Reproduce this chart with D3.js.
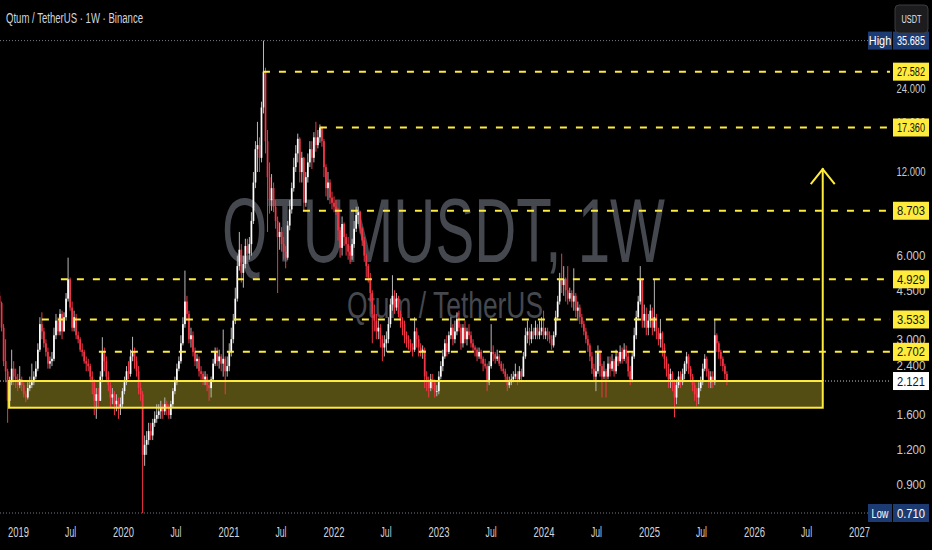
<!DOCTYPE html>
<html>
<head>
<meta charset="utf-8">
<script src="https://cdn.jsdelivr.net/npm/d3@7"></script>
<style>
  html, body { margin: 0; padding: 0; background: #000; }
  svg { display: block; }
  text { font-family: "Liberation Sans", "DejaVu Sans", sans-serif; }
</style>
</head>
<body>
<svg id="chart" width="932" height="550"></svg>
<script>
// ---------------- DATA ----------------
const symbolTitle = "Qtum / TetherUS · 1W · Binance";
const watermarkMain = "QTUMUSDT, 1W";
const watermarkSub = "Qtum / TetherUS";
const currency = "USDT";

const firstWeek = "2018-10-29";
const firstOpen = 4.3;

// weekly closes
const closes = [
  4.05,3.3,2.5,2.3,1.8,2.1,2.35,2.2,2.15,2.05,
  2.15,2.05,1.9,1.85,2.0,2.05,2.1,2.2,2.35,2.75,
  3.4,3.2,2.9,2.7,2.45,2.5,2.55,3.1,3.5,3.2,
  3.7,3.2,3.6,4.2,4.93,3.9,3.3,3.6,3.1,3.0,
  2.75,2.7,2.5,2.45,2.4,2.2,2.1,1.8,1.9,1.8,
  2.2,2.7,2.5,2.2,2.05,1.85,1.9,1.75,1.8,1.7,
  1.75,1.95,2.1,2.3,2.25,2.6,2.7,2.5,2.3,2.0,
  1.9,1.15,1.25,1.3,1.4,1.35,1.5,1.55,1.6,1.65,
  1.7,1.65,1.75,1.7,1.6,1.75,1.95,2.1,2.35,2.5,
  2.9,3.4,4.1,3.7,3.0,3.1,2.7,2.5,2.55,2.3,
  2.25,2.15,2.2,2.05,2.0,2.15,2.45,2.7,2.5,2.6,
  2.45,2.55,2.3,2.4,2.7,3.0,3.5,4.2,5.5,6.3,
  5.2,5.6,6.5,6.1,6.6,8.0,11,14.5,15,13.5,
  20.5,27.582,15.5,11.5,9.5,10.5,9.0,8.0,7.0,7.3,
  6.6,6.2,5.9,7.7,8.8,10.5,12.5,14,15.8,12.0,
  13.5,9.3,11.5,13.0,14.5,13.5,16.0,15.0,16.0,17.36,
  15.5,12.5,10.5,11.0,9.7,9.3,9.0,8.7,7.4,6.4,
  7.8,7.0,6.6,6.2,6.0,6.6,7.5,8.4,8.6,7.5,
  6.8,6.0,5.5,5.0,4.4,3.7,3.5,3.2,3.3,3.0,
  2.8,2.9,3.0,3.4,4.0,4.3,3.9,4.2,3.7,3.5,
  3.4,3.1,3.0,2.9,2.8,2.75,3.2,3.0,2.8,2.7,
  2.75,2.2,2.1,2.0,2.15,2.1,1.95,1.95,2.2,2.4,
  2.6,2.9,2.7,3.1,3.3,3.0,3.2,3.55,3.3,2.9,
  3.3,3.0,3.2,3.1,2.9,2.8,2.75,2.6,2.7,2.55,
  2.45,2.4,2.1,2.4,2.7,2.65,2.55,2.6,2.45,2.35,
  2.3,2.2,2.05,2.1,2.15,2.2,2.25,2.15,2.3,2.2,
  2.6,3.1,3.2,3.0,3.2,3.1,3.3,3.1,3.2,3.3,
  3.1,3.2,3.1,3.0,2.85,3.1,3.6,4.1,4.9,4.7,
  4.95,4.5,4.2,4.4,4.1,4.3,3.8,3.9,3.6,3.4,
  3.2,3.0,2.85,2.6,2.35,2.2,2.3,2.7,2.4,2.2,
  2.3,2.2,2.45,2.35,2.5,2.3,2.6,2.5,2.7,2.55,
  2.75,2.6,2.3,2.15,2.6,3.1,3.6,4.1,4.93,3.5,
  3.7,3.3,3.5,3.8,3.3,3.6,3.2,3.0,3.15,2.8,
  2.55,2.35,2.15,2.25,2.1,1.85,2.05,2.2,2.1,2.25,
  2.45,2.6,2.35,2.2,2.05,1.9,1.85,2.0,2.1,2.35,
  2.55,2.3,2.1,2.2,2.1,3.1,2.9,2.7,2.55,2.4,
  2.25,2.121
];

// weekly highs
const highs = [
  4.45,4.1,3.4,3.0,2.35,2.2,2.75,2.5,2.35,2.25,
  2.4,2.2,2.1,1.95,2.1,2.2,2.45,2.3,2.5,2.9,
  3.6,3.75,3.3,3.0,2.8,2.6,2.7,3.3,3.7,3.6,
  3.85,3.8,3.75,4.4,5.9,5.0,4.1,3.8,3.7,3.2,
  3.05,2.9,2.75,2.6,2.55,2.45,2.3,2.15,2.0,2.0,
  2.3,3.05,2.8,2.6,2.3,2.1,2.0,1.95,1.9,1.85,
  1.85,2.0,2.2,2.4,2.5,2.75,3.06,2.8,2.6,2.4,
  2.1,1.95,1.35,1.4,1.5,1.5,1.55,1.65,1.75,1.75,
  1.8,1.75,1.85,1.8,1.75,1.8,2.0,2.2,2.45,2.6,
  3.1,3.6,5.3,4.3,3.8,3.3,3.2,2.8,2.65,2.6,
  2.4,2.3,2.3,2.25,2.15,2.2,2.55,2.8,2.8,2.75,
  2.65,3.25,2.6,2.6,2.9,3.3,3.7,4.6,6.0,7.3,
  6.6,6.0,6.9,6.9,7.0,8.6,12,15.5,18.2,16,
  21.5,35.685,28.5,17,13,11.8,11,9.5,8.3,7.9,
  7.6,7.0,6.5,8.0,9.5,11,13.5,15,16.5,16,
  14.2,13.6,12,14,15.5,15.5,16.7,18.2,17,17.8,
  17.5,15.8,12.8,12,11.3,10.2,9.8,9.5,8.9,7.6,
  8.3,7.9,7.2,7.0,6.5,6.9,8.0,9.0,9.0,8.7,
  7.6,7.0,6.1,5.6,5.2,4.5,4.0,3.7,3.5,3.4,
  3.1,3.1,3.2,3.6,4.2,5.1,4.5,4.4,4.3,3.8,
  3.6,3.5,3.2,3.1,3.0,2.9,3.6,3.3,3.1,2.9,
  2.85,2.8,2.3,2.2,2.25,2.25,2.15,2.05,2.3,2.5,
  2.75,3.0,3.1,3.2,3.6,3.4,3.5,3.75,3.8,3.4,
  3.4,3.5,3.3,3.4,3.2,3.0,2.85,2.8,2.8,2.75,
  2.6,2.55,2.45,2.5,3.4,2.85,2.7,2.75,2.65,2.5,
  2.45,2.35,2.25,2.2,2.25,2.3,2.45,2.3,2.4,2.35,
  2.7,3.3,3.5,3.3,3.4,3.3,3.5,3.4,3.5,3.6,
  3.8,3.3,3.3,3.2,3.1,3.2,3.8,4.3,5.2,6.1,
  5.5,5.0,5.5,4.6,4.5,5.4,4.4,4.1,4.0,3.7,
  3.5,3.3,3.1,2.9,2.7,2.45,2.7,2.85,2.75,2.45,
  2.5,2.35,2.6,2.6,2.65,2.55,2.75,2.7,2.85,2.8,
  2.9,2.85,2.7,2.4,2.7,3.3,3.8,4.3,5.5,4.95,
  4.0,3.9,3.7,4.0,3.9,4.9,3.7,3.3,3.55,3.2,
  2.9,2.6,2.45,2.35,2.3,2.15,2.15,2.3,2.3,2.35,
  2.5,2.7,2.65,2.4,2.25,2.1,2.0,2.1,2.2,2.45,
  2.65,2.6,2.35,2.3,2.3,3.53,3.15,2.95,2.75,2.6,
  2.45,2.3
];

// weekly lows
const lows = [
  3.9,3.2,2.4,2.1,1.5,1.7,2.05,2.05,2.0,1.95,
  2.0,1.95,1.85,1.78,1.82,1.95,2.0,2.05,2.15,2.3,
  2.7,3.0,2.8,2.6,2.35,2.35,2.4,2.5,3.0,3.1,
  3.1,3.0,3.2,3.5,4.1,3.8,3.2,3.2,3.0,2.9,
  2.7,2.6,2.45,2.3,2.3,2.1,1.9,1.6,1.55,1.7,
  1.8,2.1,2.3,2.1,1.95,1.7,1.75,1.6,1.65,1.55,
  1.6,1.7,1.9,2.05,2.15,2.2,2.5,2.35,2.2,1.9,
  1.8,0.71,1.05,1.15,1.25,1.3,1.3,1.45,1.5,1.55,
  1.55,1.55,1.6,1.6,1.55,1.55,1.7,1.9,2.05,2.3,
  2.45,2.85,3.3,3.5,2.9,2.8,2.6,2.4,2.35,2.2,
  2.1,2.05,2.05,1.95,1.8,1.85,2.1,2.4,2.4,2.35,
  2.3,2.2,1.9,2.2,2.3,2.6,2.9,3.4,4.1,5.3,
  4.8,4.6,5.4,5.6,5.8,6.0,7.8,10.5,12,12,
  13,19.5,14,7.3,8.5,8.7,8.6,7.5,4.4,6.3,
  6.2,5.8,5.4,5.8,7.4,8.5,10.2,12,13,11,
  11,8.7,9.0,11,12.5,12.3,13,14.2,14.6,15.3,
  14.8,11.5,9.8,9.5,9.2,8.8,8.6,8.4,6.8,5.9,
  6.0,6.5,6.0,5.8,5.6,5.8,6.4,7.3,7.8,7.2,
  6.5,5.7,5.0,4.8,4.1,2.9,3.2,3.0,3.0,2.8,
  2.5,2.6,2.7,2.9,3.3,3.8,3.7,3.8,3.6,3.3,
  3.1,2.9,2.8,2.75,2.7,2.6,2.7,2.8,2.6,2.6,
  2.55,2.0,1.95,1.85,1.95,1.98,1.85,1.87,1.9,2.15,
  2.3,2.55,2.6,2.65,3.0,2.85,2.9,3.1,3.2,2.75,
  2.8,2.9,2.85,3.0,2.8,2.7,2.6,2.5,2.55,2.45,
  2.3,2.35,1.95,2.05,2.35,2.5,2.45,2.5,2.4,2.3,
  2.25,2.1,1.95,2.0,2.05,2.1,2.15,2.05,2.1,2.1,
  2.2,2.55,2.9,2.85,2.9,3.0,3.0,3.0,3.0,3.1,
  3.0,3.0,2.95,2.9,2.75,2.8,3.05,3.5,4.0,4.4,
  4.3,4.1,4.0,4.1,3.9,3.8,3.6,3.5,3.4,3.3,
  3.1,2.9,2.7,2.5,2.25,2.1,1.95,2.25,2.2,1.85,
  2.15,1.85,2.15,2.2,2.3,2.2,2.25,2.4,2.45,2.45,
  2.5,2.45,2.2,2.05,2.1,2.55,3.0,3.5,4.0,3.3,
  3.3,3.1,3.1,3.3,3.1,3.2,3.0,2.85,2.8,2.6,
  2.35,2.2,2.0,2.0,1.95,1.57,1.75,2.0,2.0,2.05,
  2.15,2.3,2.25,2.1,1.95,1.8,1.72,1.75,1.95,2.05,
  2.3,2.2,2.0,2.0,2.0,2.05,2.7,2.55,2.4,2.3,
  2.15,2.05
];

// horizontal resistance levels (price, date where the line starts)
const levelPrices = [27.582, 17.360, 8.703, 4.929, 3.533, 2.702];
const levelStarts = ["2021-05-01", "2021-11-15", "2021-09-17", "2019-05-30", "2019-03-25", "2019-10-09"];

// support zone
const zoneLow = 1.70, zoneHigh = 2.121;
const zoneStart = "2018-12-01", zoneEnd = "2026-08-28";
const arrowTarget = 12.4;

const allTimeHigh = 35.685, allTimeLow = 0.710, lastPrice = 2.121;

// axis ticks
const priceTicks = [24, 18, 12, 6, 4.5, 3, 2.4, 1.6, 1.2, 0.9];
const timeTickDates = ["2019-01-01","2019-07-01","2020-01-01","2020-07-01","2021-01-01","2021-07-01",
  "2022-01-01","2022-07-01","2023-01-01","2023-07-01","2024-01-01","2024-07-01","2025-01-01",
  "2025-07-01","2026-01-01","2026-07-01","2027-01-01"];
const timeTickLabels = ["2019","Jul","2020","Jul","2021","Jul","2022","Jul","2023","Jul","2024","Jul",
  "2025","Jul","2026","Jul","2027"];

// ---------------- CHART ----------------
const parse = d3.utcParse("%Y-%m-%d");
const svg = d3.select("#chart");
const W = 932, H = 550;
const plotRight = 890;

svg.append("rect").attr("width", W).attr("height", H).attr("fill", "#000");

const x = d3.scaleUtc().domain([parse("2019-01-01"), parse("2027-01-01")]).range([18, 859]);
const y = d3.scaleLog().domain([allTimeLow, allTimeHigh]).range([513, 40.6]);

const n = Math.min(closes.length, highs.length, lows.length);
const start = parse(firstWeek);
const candles = d3.range(n).map(i => {
  const o = i === 0 ? firstOpen : closes[i - 1];
  const c = closes[i];
  return { date: d3.utcDay.offset(start, 7 * i), o, c,
           h: Math.max(highs[i], o, c), l: Math.min(lows[i], o, c) };
});

// clip for plot area
svg.append("clipPath").attr("id", "plotclip")
  .append("rect").attr("x", 0).attr("y", 0).attr("width", plotRight).attr("height", 518);

// watermark
svg.append("text").text(watermarkMain)
  .attr("x", 222).attr("y", 262)
  .attr("font-size", 90).attr("fill", "#45484f")
  .attr("textLength", 443).attr("lengthAdjust", "spacingAndGlyphs");
svg.append("text").text(watermarkSub)
  .attr("x", 347).attr("y", 318)
  .attr("font-size", 36).attr("fill", "#45484f")
  .attr("textLength", 196).attr("lengthAdjust", "spacingAndGlyphs");

const plot = svg.append("g").attr("clip-path", "url(#plotclip)");

// high / low dotted lines
plot.append("line").attr("x1", 0).attr("x2", 868)
  .attr("y1", y(allTimeHigh)).attr("y2", y(allTimeHigh))
  .attr("stroke", "#787b86").attr("stroke-dasharray", "1,2");
plot.append("line").attr("x1", 0).attr("x2", 870)
  .attr("y1", y(allTimeLow)).attr("y2", y(allTimeLow))
  .attr("stroke", "#787b86").attr("stroke-dasharray", "1,2");

// zone fill
const zx0 = x(parse(zoneStart)), zx1 = x(parse(zoneEnd));
plot.append("rect")
  .attr("x", zx0).attr("y", y(zoneHigh))
  .attr("width", zx1 - zx0).attr("height", y(zoneLow) - y(zoneHigh))
  .attr("fill", "#ffeb3b").attr("fill-opacity", 0.33);

// last price dotted line
plot.append("line").attr("x1", 0).attr("x2", plotRight)
  .attr("y1", y(lastPrice)).attr("y2", y(lastPrice))
  .attr("stroke", "#c8cad0").attr("stroke-dasharray", "1,2");

// candles
const upBody = "#ffffff", upWick = "#b8b8b8", dnCol = "#f23645";
const cg = plot.append("g");
cg.selectAll("line.wick").data(candles).join("line")
  .attr("class", "wick")
  .attr("x1", d => x(d.date)).attr("x2", d => x(d.date))
  .attr("y1", d => y(d.h)).attr("y2", d => y(d.l))
  .attr("stroke", d => d.c >= d.o ? upWick : dnCol)
  .attr("stroke-width", 1);
cg.selectAll("rect.body").data(candles).join("rect")
  .attr("class", "body")
  .attr("x", d => x(d.date) - 0.85)
  .attr("width", 1.7)
  .attr("y", d => y(Math.max(d.o, d.c)))
  .attr("height", d => Math.max(0.8, Math.abs(y(d.o) - y(d.c))))
  .attr("fill", d => d.c >= d.o ? upBody : dnCol);

// zone border
plot.append("rect")
  .attr("x", zx0).attr("y", y(zoneHigh))
  .attr("width", zx1 - zx0).attr("height", y(zoneLow) - y(zoneHigh))
  .attr("fill", "none").attr("stroke", "#ffeb3b").attr("stroke-width", 2);

// dashed levels
plot.selectAll("line.level").data(levelPrices).join("line")
  .attr("class", "level")
  .attr("x1", (d, i) => x(parse(levelStarts[i]))).attr("x2", plotRight)
  .attr("y1", d => y(d)).attr("y2", d => y(d))
  .attr("stroke", "#ffeb3b").attr("stroke-width", 2).attr("stroke-dasharray", "7,9");

// arrow
const ax = zx1, ayTop = y(arrowTarget);
plot.append("line").attr("x1", ax).attr("x2", ax)
  .attr("y1", y(zoneHigh)).attr("y2", ayTop)
  .attr("stroke", "#ffeb3b").attr("stroke-width", 2);
plot.append("path")
  .attr("d", `M${ax - 12},${ayTop + 16}L${ax},${ayTop + 1}L${ax + 12},${ayTop + 16}`)
  .attr("fill", "none").attr("stroke", "#ffeb3b").attr("stroke-width", 2);

// title
svg.append("text").text(symbolTitle)
  .attr("x", 6).attr("y", 23).attr("font-size", 14).attr("fill", "#d1d4dc")
  .attr("textLength", 137).attr("lengthAdjust", "spacingAndGlyphs");

// time axis
const xAxis = d3.axisBottom(x)
  .tickValues(timeTickDates.map(parse))
  .tickFormat((d, i) => timeTickLabels[i])
  .tickSize(0).tickPadding(0);
const gx = svg.append("g").attr("transform", "translate(0,527)").call(xAxis);
gx.select(".domain").remove();
gx.selectAll("text")
  .attr("dy", "0.71em").attr("y", 0)
  .attr("font-size", 14).attr("fill", "#d1d4dc")
  .attr("font-family", "Liberation Sans, sans-serif")
  .attr("textLength", (d, i) => timeTickLabels[i].length > 3 ? 21 : 11)
  .attr("lengthAdjust", "spacingAndGlyphs");

// price axis
const yAxis = d3.axisRight(y).tickValues(priceTicks).tickFormat(d3.format(".3f")).tickSize(0);
const gy = svg.append("g").attr("transform", "translate(911,0)").call(yAxis);
gy.select(".domain").remove();
gy.selectAll("text")
  .attr("x", 0).attr("text-anchor", "middle")
  .attr("font-size", 12).attr("fill", "#c8cad0")
  .attr("font-family", "Liberation Sans, sans-serif")
  .attr("textLength", 29).attr("lengthAdjust", "spacingAndGlyphs");

// price labels helper
function priceTag(value, bg, fg, label) {
  const cy = y(value);
  const g = svg.append("g");
  if (label) {
    g.append("rect").attr("x", 868).attr("y", cy - 9).attr("width", 24).attr("height", 18).attr("fill", bg);
    g.append("text").text(label).attr("x", 880).attr("y", cy + 4.5)
      .attr("text-anchor", "middle").attr("font-size", 12).attr("fill", fg)
      .attr("textLength", label.length * 5.6).attr("lengthAdjust", "spacingAndGlyphs");
  }
  g.append("rect").attr("x", 893).attr("y", cy - 9).attr("width", 36).attr("height", 18).attr("fill", bg);
  g.append("text").text(d3.format(".3f")(value)).attr("x", 911).attr("y", cy + 4.5)
    .attr("text-anchor", "middle").attr("font-size", 12).attr("fill", fg)
    .attr("textLength", 28).attr("lengthAdjust", "spacingAndGlyphs");
}
levelPrices.forEach(p => priceTag(p, "#ffeb3b", "#131313"));
priceTag(lastPrice, "#ffffff", "#131313");
priceTag(allTimeHigh, "#1d3b73", "#ffffff", "High");
priceTag(allTimeLow, "#1d3b73", "#ffffff", "Low");

// currency button
svg.append("rect").attr("x", 895).attr("y", 5).attr("width", 33).attr("height", 28).attr("rx", 4)
  .attr("fill", "#1c1c1e").attr("stroke", "#3a3d45");
svg.append("text").text(currency).attr("x", 911.5).attr("y", 23)
  .attr("text-anchor", "middle").attr("font-size", 10).attr("fill", "#e0e3eb")
  .attr("textLength", 20).attr("lengthAdjust", "spacingAndGlyphs");
</script>
</body>
</html>
